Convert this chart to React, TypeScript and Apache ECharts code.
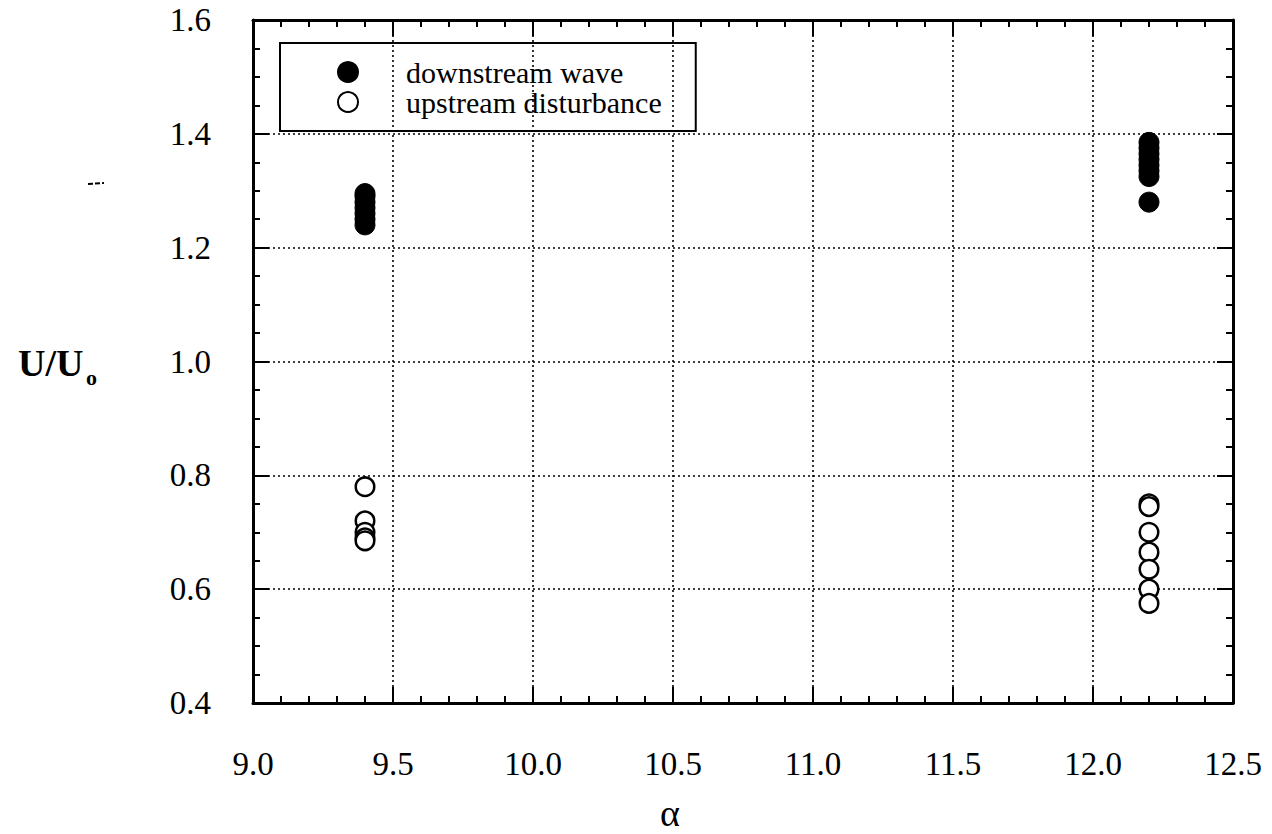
import React, { useEffect, useRef } from "react";
import * as echarts from "echarts";

const downstreamAlpha = [9.4, 9.4, 9.4, 9.4, 9.4, 9.4, 9.4, 12.2, 12.2, 12.2, 12.2, 12.2, 12.2, 12.2, 12.2];
const downstreamU = [1.295, 1.29, 1.28, 1.27, 1.26, 1.25, 1.24, 1.385, 1.375, 1.365, 1.355, 1.345, 1.335, 1.325, 1.28];
const upstreamAlpha = [9.4, 9.4, 9.4, 9.4, 9.4, 12.2, 12.2, 12.2, 12.2, 12.2, 12.2, 12.2];
const upstreamU = [0.78, 0.72, 0.70, 0.69, 0.685, 0.75, 0.745, 0.70, 0.665, 0.635, 0.60, 0.575];
const seriesNames = ["downstream wave", "upstream disturbance"];

const FONT = "Liberation Serif";

export default function App() {
  const ref = useRef<HTMLDivElement>(null);
  useEffect(() => {
    if (!ref.current) return;
    const chart = echarts.init(ref.current, undefined, { renderer: "svg" });
    const axisLine = { show: true, lineStyle: { color: "#000", width: 3 } };
    const axisTick = { show: true, inside: true, length: 16, lineStyle: { color: "#000", width: 2 } };
    const minorTick = { show: true, splitNumber: 5, length: 7, lineStyle: { color: "#000", width: 2 } };
    const minorTickY = { show: true, splitNumber: 4, length: 7, lineStyle: { color: "#000", width: 2 } };
    const splitLine = { show: true, lineStyle: { color: "#000", width: 1.6, type: [2, 3] as any } };
    const label = { fontFamily: FONT, fontSize: 33, color: "#000" };
    chart.setOption({
      animation: false,
      backgroundColor: "#fff",
      textStyle: { fontFamily: FONT },
      grid: { left: 253, right: 39, top: 20, bottom: 131 },
      legend: {
        orient: "vertical",
        left: 280,
        top: 43,
        borderColor: "#000",
        borderWidth: 2,
        padding: [14, 34, 14, 57],
        itemGap: 0,
        itemWidth: 20,
        itemHeight: 20,
        textStyle: { fontFamily: FONT, fontSize: 30, lineHeight: 30, color: "#000", padding: [0, 0, 0, 43] },
        data: seriesNames.map((n) => ({ name: n, icon: "circle" })),
      },
      xAxis: [
        {
          type: "value", min: 9.0, max: 12.5, interval: 0.5,
          axisLine, axisTick, minorTick, splitLine,
          axisLabel: { ...label, margin: 44, formatter: (v: number) => v.toFixed(1) },
        },
        {
          type: "value", position: "top", min: 9.0, max: 12.5, interval: 0.5,
          axisLine, axisTick, minorTick, splitLine: { show: false }, axisLabel: { show: false },
        },
      ],
      yAxis: [
        {
          type: "value", min: 0.4, max: 1.6, interval: 0.2,
          axisLine, axisTick, minorTick: minorTickY, splitLine,
          axisLabel: { ...label, margin: 42, formatter: (v: number) => v.toFixed(1) },
        },
        {
          type: "value", position: "right", min: 0.4, max: 1.6, interval: 0.2,
          axisLine, axisTick, minorTick: minorTickY, splitLine: { show: false }, axisLabel: { show: false },
        },
      ],
      series: [
        {
          name: seriesNames[0], type: "scatter", symbol: "circle", symbolSize: 20,
          itemStyle: { color: "#000", borderColor: "#000", borderWidth: 1, opacity: 1 },
          data: downstreamAlpha.map((a, i) => [a, downstreamU[i]]),
          z: 5,
        },
        {
          name: seriesNames[1], type: "scatter", symbol: "circle", symbolSize: 18.5,
          itemStyle: { color: "#fff", borderColor: "#000", borderWidth: 2.5, opacity: 1 },
          data: upstreamAlpha.map((a, i) => [a, upstreamU[i]]),
          z: 5,
        },
      ],
      graphic: [
        { type: "text", left: 18, top: 344, style: { text: "U/U", fontFamily: FONT, fontSize: 38, fontWeight: "bold", fill: "#000" } },
        { type: "text", left: 86, top: 366, style: { text: "o", fontFamily: FONT, fontSize: 22, fontWeight: "bold", fill: "#000" } },
        { type: "text", left: 660, top: 794, style: { text: "α", fontFamily: FONT, fontSize: 38, fill: "#000" } },
        { type: "line", shape: { x1: 88, y1: 184, x2: 104, y2: 183 }, style: { stroke: "#000", lineWidth: 2, lineDash: [5, 2] } },
      ],
    });
    return () => chart.dispose();
  }, []);
  return <div ref={ref} style={{ position: "fixed", left: 0, top: 0, width: 1272, height: 834 }} />;
}
